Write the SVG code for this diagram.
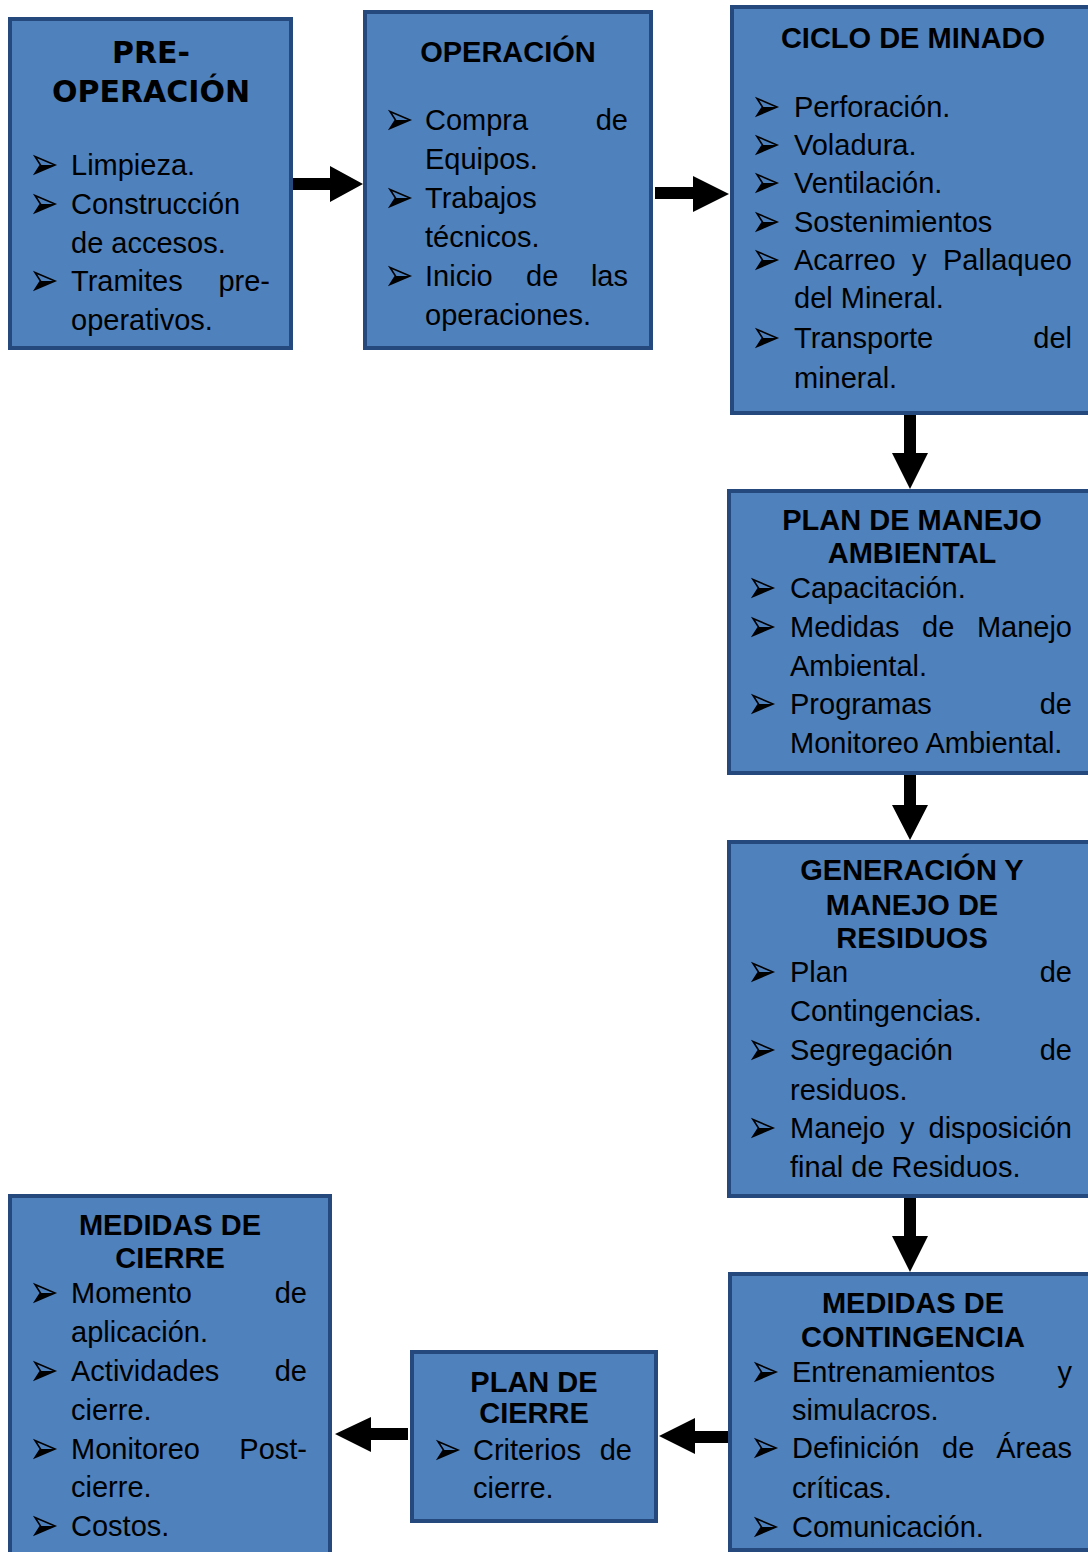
<svg xmlns="http://www.w3.org/2000/svg" width="1088" height="1552" viewBox="0 0 1088 1552">
<style>
.box{fill:#4F81BD;stroke:#25497D;stroke-width:4}
.t{font-family:"Liberation Sans",Arial,sans-serif;font-weight:bold;font-size:29px;fill:#000;text-anchor:middle}
.t1{font-family:"DejaVu Sans",Verdana,sans-serif;font-weight:bold;font-size:30px;fill:#000;text-anchor:middle}
.b{font-family:"Liberation Sans",Arial,sans-serif;font-size:29px;fill:#000}
.e{text-anchor:end}
.arrow{fill:#000}
</style>
<defs>
<g id="bul">
<path d="M0,-8.5 L20,0 L0,8.5 L5.5,0 Z" fill="none" stroke="#000" stroke-width="1.6" stroke-linejoin="miter"/>
<path d="M5.5,0 L20,0 L0,8.5 Z" fill="#000"/>
</g>
</defs>
<rect width="1088" height="1552" fill="#fff"/>

<g id="connectors">
<polygon class="arrow" points="291,178 330,178 330,166 363,184 330,202 330,190 291,190"/>
<polygon class="arrow" points="655,187 693,187 693,176 729,194 693,212 693,199 655,199"/>
<polygon class="arrow" points="904,415 916,415 916,453 928,453 910,489 892,453 904,453"/>
<polygon class="arrow" points="904,775 916,775 916,805 928,805 910,840 892,805 904,805"/>
<polygon class="arrow" points="904,1198 916,1198 916,1236 928,1236 910,1272 892,1236 904,1236"/>
<polygon class="arrow" points="732,1431 695,1431 695,1418 659,1436 695,1454 695,1443 732,1443"/>
<polygon class="arrow" points="408,1428 371,1428 371,1417 335,1434 371,1452 371,1440 408,1440"/>
</g>

<g id="pre-operacion">
<rect class="box" x="10" y="19" width="281" height="329"/>
<text class="t1" x="151" y="63">PRE-</text>
<text class="t1" x="151" y="102">OPERACIÓN</text>
<use href="#bul" x="35" y="165"/><text class="b" x="71" y="175">Limpieza.</text>
<use href="#bul" x="35" y="204"/><text class="b" x="71" y="214">Construcción</text>
<text class="b" x="71" y="253">de accesos.</text>
<use href="#bul" x="35" y="281"/><text class="b" x="71" y="291">Tramites</text><text class="b e" x="270" y="291">pre-</text>
<text class="b" x="71" y="330">operativos.</text>
</g>

<g id="operacion">
<rect class="box" x="365" y="12" width="286" height="336"/>
<text class="t" x="508" y="62">OPERACIÓN</text>
<use href="#bul" x="390" y="120"/><text class="b" x="425" y="130">Compra</text><text class="b e" x="628" y="130">de</text>
<text class="b" x="425" y="169">Equipos.</text>
<use href="#bul" x="390" y="198"/><text class="b" x="425" y="208">Trabajos</text>
<text class="b" x="425" y="247">técnicos.</text>
<use href="#bul" x="390" y="276"/><text class="b" x="425" y="286">Inicio</text><text class="b" x="526" y="286">de</text><text class="b e" x="628" y="286">las</text>
<text class="b" x="425" y="325">operaciones.</text>
</g>

<g id="ciclo-minado">
<rect class="box" x="732" y="7" width="400" height="406"/>
<text class="t" x="913" y="48">CICLO DE MINADO</text>
<use href="#bul" x="757" y="107"/><text class="b" x="794" y="117">Perforación.</text>
<use href="#bul" x="757" y="145"/><text class="b" x="794" y="155">Voladura.</text>
<use href="#bul" x="757" y="183"/><text class="b" x="794" y="193">Ventilación.</text>
<use href="#bul" x="757" y="222"/><text class="b" x="794" y="232">Sostenimientos</text>
<use href="#bul" x="757" y="260"/><text class="b" x="794" y="270">Acarreo</text><text class="b" x="912" y="270">y</text><text class="b e" x="1072" y="270">Pallaqueo</text>
<text class="b" x="794" y="308">del Mineral.</text>
<use href="#bul" x="757" y="338"/><text class="b" x="794" y="348">Transporte</text><text class="b e" x="1072" y="348">del</text>
<text class="b" x="794" y="388">mineral.</text>
</g>

<g id="plan-manejo-ambiental">
<rect class="box" x="729" y="491" width="400" height="282"/>
<text class="t" x="912" y="530">PLAN DE MANEJO</text>
<text class="t" x="912" y="563">AMBIENTAL</text>
<use href="#bul" x="753" y="588"/><text class="b" x="790" y="598">Capacitación.</text>
<use href="#bul" x="753" y="627"/><text class="b" x="790" y="637">Medidas</text><text class="b" x="922" y="637">de</text><text class="b e" x="1072" y="637">Manejo</text>
<text class="b" x="790" y="676">Ambiental.</text>
<use href="#bul" x="753" y="704"/><text class="b" x="790" y="714">Programas</text><text class="b e" x="1072" y="714">de</text>
<text class="b" x="790" y="753">Monitoreo Ambiental.</text>
</g>

<g id="generacion-residuos">
<rect class="box" x="729" y="842" width="400" height="354"/>
<text class="t" x="912" y="880">GENERACIÓN Y</text>
<text class="t" x="912" y="915">MANEJO DE</text>
<text class="t" x="912" y="948">RESIDUOS</text>
<use href="#bul" x="753" y="972"/><text class="b" x="790" y="982">Plan</text><text class="b e" x="1072" y="982">de</text>
<text class="b" x="790" y="1021">Contingencias.</text>
<use href="#bul" x="753" y="1050"/><text class="b" x="790" y="1060">Segregación</text><text class="b e" x="1072" y="1060">de</text>
<text class="b" x="790" y="1100">residuos.</text>
<use href="#bul" x="753" y="1128"/><text class="b" x="790" y="1138">Manejo</text><text class="b" x="900" y="1138">y</text><text class="b e" x="1072" y="1138">disposición</text>
<text class="b" x="790" y="1177">final de Residuos.</text>
</g>

<g id="medidas-contingencia">
<rect class="box" x="730" y="1274" width="400" height="276"/>
<text class="t" x="913" y="1313">MEDIDAS DE</text>
<text class="t" x="913" y="1347">CONTINGENCIA</text>
<use href="#bul" x="756" y="1372"/><text class="b" x="792" y="1382">Entrenamientos</text><text class="b e" x="1072" y="1382">y</text>
<text class="b" x="792" y="1420">simulacros.</text>
<use href="#bul" x="756" y="1448"/><text class="b" x="792" y="1458">Definición</text><text class="b" x="942" y="1458">de</text><text class="b e" x="1072" y="1458">Áreas</text>
<text class="b" x="792" y="1498">críticas.</text>
<use href="#bul" x="756" y="1527"/><text class="b" x="792" y="1537">Comunicación.</text>
</g>

<g id="plan-cierre">
<rect class="box" x="412" y="1352" width="244" height="169"/>
<text class="t" x="534" y="1392">PLAN DE</text>
<text class="t" x="534" y="1423">CIERRE</text>
<use href="#bul" x="438" y="1450"/><text class="b" x="473" y="1460">Criterios</text><text class="b e" x="632" y="1460">de</text>
<text class="b" x="473" y="1498">cierre.</text>
</g>

<g id="medidas-cierre">
<rect class="box" x="10" y="1196" width="320" height="360"/>
<text class="t" x="170" y="1235">MEDIDAS DE</text>
<text class="t" x="170" y="1268">CIERRE</text>
<use href="#bul" x="35" y="1293"/><text class="b" x="71" y="1303">Momento</text><text class="b e" x="307" y="1303">de</text>
<text class="b" x="71" y="1342">aplicación.</text>
<use href="#bul" x="35" y="1371"/><text class="b" x="71" y="1381">Actividades</text><text class="b e" x="307" y="1381">de</text>
<text class="b" x="71" y="1420">cierre.</text>
<use href="#bul" x="35" y="1449"/><text class="b" x="71" y="1459">Monitoreo</text><text class="b e" x="307" y="1459">Post-</text>
<text class="b" x="71" y="1497">cierre.</text>
<use href="#bul" x="35" y="1526"/><text class="b" x="71" y="1536">Costos.</text>
</g>
</svg>
